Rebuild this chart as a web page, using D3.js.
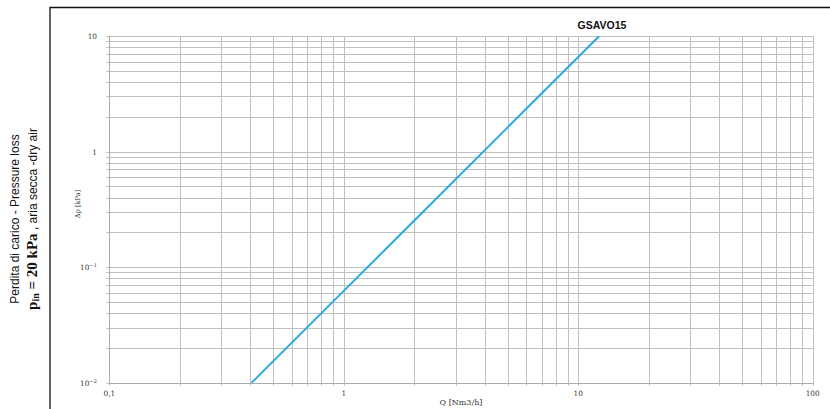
<!DOCTYPE html>
<html>
<head>
<meta charset="utf-8">
<script src="https://cdn.jsdelivr.net/npm/d3@7"></script>
<style>
  html, body { margin: 0; padding: 0; background: #fff; }
  svg { display: block; }
</style>
</head>
<body>
<svg id="chart" width="830" height="409"></svg>
<script>
// ---- Data ----
const seriesName = "GSAVO15";
const flowQ = [0.4, 1, 2, 5, 10, 12.3];            // Q [Nm3/h]
const pressureLoss = [0.00975, 0.0623, 0.253, 1.62, 6.59, 10.0]; // Δp [kPa]
const xTickValues = [0.1, 1, 10, 100];
const xTickLabels = ["0,1", "1", "10", "100"];
const yTickValues = [10, 1, 0.1, 0.01];
const yTickBase = ["10", "1", "10", "10"];
const yTickExp = ["", "", "\u22121", "\u22122"];
const xTitle = "Q [Nm3/h]";
const yTitle = "\u0394p [kPa]";
const sideTitle1 = "Perdita di carico - Pressure loss";

// ---- Layout ----
const svg = d3.select("#chart");
const x = d3.scaleLog().domain([0.1, 100]).range([109.3, 812.7]);
const y = d3.scaleLog().domain([0.01, 10]).range([382.7, 36]);

// frame
svg.append("path")
  .attr("d", "M50,409 L50,7.5 L830,7.5")
  .attr("fill", "none").attr("stroke", "#111").attr("stroke-width", 1.3);

// minor/major grid values
const gridX = [], gridY = [];
[0.1, 1, 10].forEach(d => { for (let k = 1; k <= 9; k++) gridX.push(+(d * k).toPrecision(3)); });
gridX.push(100);
[0.01, 0.1, 1].forEach(d => { for (let k = 1; k <= 9; k++) gridY.push(+(d * k).toPrecision(3)); });
gridY.push(10);

const g = svg.append("g");
g.selectAll("line.vx").data(gridX).join("line")
  .attr("x1", d => Math.round(x(d)) + 0.5).attr("x2", d => Math.round(x(d)) + 0.5)
  .attr("y1", y(10)).attr("y2", y(0.01) + 3)
  .attr("stroke", "#bfbfbf").attr("stroke-width", 1);
g.selectAll("line.hy").data(gridY).join("line")
  .attr("y1", d => Math.round(y(d)) + 0.5).attr("y2", d => Math.round(y(d)) + 0.5)
  .attr("x1", x(0.1) - 3).attr("x2", x(100))
  .attr("stroke", "#bfbfbf").attr("stroke-width", 1);

// axis lines
g.append("line").attr("x1", Math.round(x(0.1)) + 0.5).attr("x2", Math.round(x(0.1)) + 0.5)
  .attr("y1", y(10)).attr("y2", y(0.01)).attr("stroke", "#aaaaaa");
g.append("line").attr("x1", x(0.1)).attr("x2", x(100))
  .attr("y1", Math.round(y(0.01)) + 0.5).attr("y2", Math.round(y(0.01)) + 0.5).attr("stroke", "#aaaaaa");

// clip
svg.append("clipPath").attr("id", "clip").append("rect")
  .attr("x", x(0.1)).attr("y", y(10)).attr("width", x(100) - x(0.1)).attr("height", y(0.01) - y(10));

// series line
const line = d3.line().x((d, i) => x(flowQ[i])).y(d => y(d));
svg.append("path").datum(pressureLoss)
  .attr("clip-path", "url(#clip)")
  .attr("d", line)
  .attr("fill", "none").attr("stroke", "#2aa9e0").attr("stroke-width", 2);

// x tick labels
svg.selectAll("text.xt").data(xTickValues).join("text")
  .attr("x", d => x(d)).attr("y", 396)
  .attr("text-anchor", "middle")
  .attr("font-family", "DejaVu Serif").attr("font-size", 7.3).attr("fill", "#333")
  .text((d, i) => xTickLabels[i]);

// y tick labels
const yt = svg.selectAll("text.yt").data(yTickValues).join("text")
  .attr("x", 97).attr("y", d => y(d) + 3)
  .attr("text-anchor", "end")
  .attr("font-family", "DejaVu Serif").attr("font-size", 7.3).attr("fill", "#333");
yt.each(function (d, i) {
  const t = d3.select(this);
  t.append("tspan").text(yTickBase[i]);
  if (yTickExp[i]) t.append("tspan").attr("dy", -3).attr("font-size", 5.2).text(yTickExp[i]);
});

// axis titles
svg.append("text").attr("x", 461).attr("y", 405).attr("text-anchor", "middle")
  .attr("font-family", "DejaVu Serif").attr("font-size", 8).attr("fill", "#333").text(xTitle);
svg.append("text").attr("transform", "translate(80,204) rotate(-90)").attr("text-anchor", "middle")
  .attr("font-family", "DejaVu Serif").attr("font-size", 6.6).attr("fill", "#333").text(yTitle);

// series title
svg.append("text").attr("x", 602).attr("y", 29).attr("text-anchor", "middle")
  .attr("font-family", "Liberation Sans, Arial").attr("font-weight", "bold").attr("font-size", 10.5)
  .attr("fill", "#111").text(seriesName);

// side title
svg.append("text").attr("transform", "translate(19,219) rotate(-90)").attr("text-anchor", "middle")
  .attr("font-family", "Liberation Sans, Arial").attr("font-size", 12).attr("fill", "#111")
  .text(sideTitle1);
const s2 = svg.append("text").attr("transform", "translate(37,219) rotate(-90)").attr("text-anchor", "middle")
  .attr("fill", "#111");
s2.append("tspan").attr("font-family", "Liberation Serif").attr("font-size", 15).attr("font-weight", "bold").text("p");
s2.append("tspan").attr("font-family", "Liberation Serif").attr("font-size", 10).attr("font-weight", "bold").attr("dy", 2).text("in");
s2.append("tspan").attr("font-family", "Liberation Serif").attr("font-size", 15).attr("font-weight", "bold").attr("dy", -2).text(" =  20 kPa");
s2.append("tspan").attr("font-family", "Liberation Sans, Arial").attr("font-size", 12).text(" , aria secca -dry air");
</script>
</body>
</html>
